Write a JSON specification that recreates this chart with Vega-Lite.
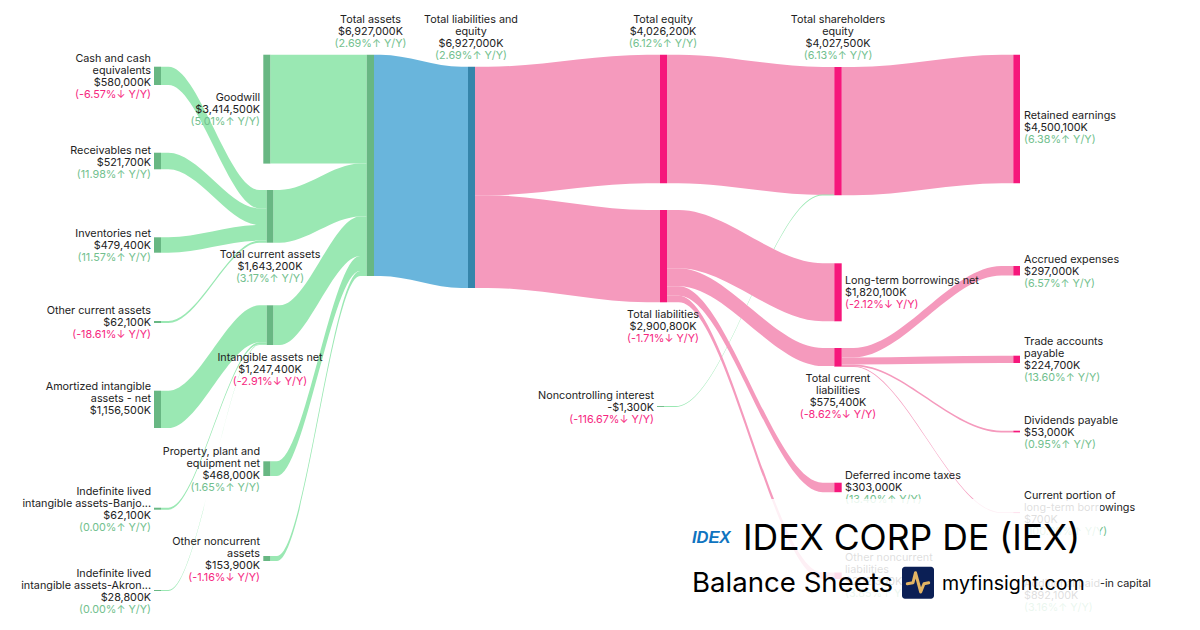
{"$schema":"https://vega.github.io/schema/vega-lite/v6.json","width":1200,"height":630,"autosize":{"type":"fit","contains":"padding"},"padding":0,"background":"white","config":{"view":{"stroke":null},"font":"Inter"},
"datasets":{
"links":[
{"l":"cash","k":"linkG","x":161,"a":66.7,"b":85},{"l":"cash","k":"linkG","x":168.4,"a":66.7,"b":85},{"l":"cash","k":"linkG","x":259.3,"a":190,"b":208.3},{"l":"cash","k":"linkG","x":266.7,"a":190,"b":208.3},
{"l":"recv","k":"linkG","x":161,"a":152.7,"b":169.3},{"l":"recv","k":"linkG","x":168.4,"a":152.7,"b":169.3},{"l":"recv","k":"linkG","x":259.3,"a":208.3,"b":225},{"l":"recv","k":"linkG","x":266.7,"a":208.3,"b":225},
{"l":"inv","k":"linkG","x":161,"a":237.3,"b":252.7},{"l":"inv","k":"linkG","x":168.4,"a":237.3,"b":252.7},{"l":"inv","k":"linkG","x":259.3,"a":225,"b":240.6},{"l":"inv","k":"linkG","x":266.7,"a":225,"b":240.6},
{"l":"oca","k":"linkG","x":161,"a":321,"b":323},{"l":"oca","k":"linkG","x":168.4,"a":321,"b":323},{"l":"oca","k":"linkG","x":259.3,"a":240.6,"b":242.7},{"l":"oca","k":"linkG","x":266.7,"a":240.6,"b":242.7},
{"l":"amort","k":"linkG","x":161,"a":390.7,"b":428},{"l":"amort","k":"linkG","x":168.4,"a":390.7,"b":428},{"l":"amort","k":"linkG","x":259.3,"a":305.3,"b":342.3},{"l":"amort","k":"linkG","x":266.7,"a":305.3,"b":342.3},
{"l":"banjo","k":"linkG","x":161,"a":507.7,"b":509.7},{"l":"banjo","k":"linkG","x":168.4,"a":507.7,"b":509.7},{"l":"banjo","k":"linkG","x":259.3,"a":342.3,"b":344.3},{"l":"banjo","k":"linkG","x":266.7,"a":342.3,"b":344.3},
{"l":"akron","k":"linkG","x":161,"a":590,"b":591},{"l":"akron","k":"linkG","x":168.4,"a":590,"b":591},{"l":"akron","k":"linkG","x":259.3,"a":344.3,"b":345},{"l":"akron","k":"linkG","x":266.7,"a":344.3,"b":345},
{"l":"tca","k":"linkG","x":273.3,"a":190,"b":242.7},{"l":"tca","k":"linkG","x":279.8,"a":190,"b":242.7},{"l":"tca","k":"linkG","x":360.2,"a":163.6,"b":216.5},{"l":"tca","k":"linkG","x":366.7,"a":163.6,"b":216.5},
{"l":"intang","k":"linkG","x":273.3,"a":305.3,"b":345},{"l":"intang","k":"linkG","x":279.8,"a":305.3,"b":345},{"l":"intang","k":"linkG","x":360.2,"a":216.5,"b":256},{"l":"intang","k":"linkG","x":366.7,"a":216.5,"b":256},
{"l":"good","k":"linkG","x":270.3,"a":54.7,"b":163.6},{"l":"good","k":"linkG","x":366.7,"a":54.7,"b":163.6},
{"l":"ppe","k":"linkG","x":270.3,"a":461.3,"b":476},{"l":"ppe","k":"linkG","x":277,"a":461.3,"b":476},{"l":"ppe","k":"linkG","x":360,"a":256,"b":271},{"l":"ppe","k":"linkG","x":366.7,"a":256,"b":271},
{"l":"onc","k":"linkG","x":270.3,"a":556,"b":561},{"l":"onc","k":"linkG","x":277,"a":556,"b":561},{"l":"onc","k":"linkG","x":360,"a":271,"b":276},{"l":"onc","k":"linkG","x":366.7,"a":271,"b":276},
{"l":"ta","k":"linkB","x":374,"a":54.7,"b":276},{"l":"ta","k":"linkB","x":380.6,"a":54.7,"b":276},{"l":"ta","k":"linkB","x":461.4,"a":66.7,"b":288},{"l":"ta","k":"linkB","x":468,"a":66.7,"b":288},
{"l":"te","k":"linkP","x":475,"a":66.7,"b":195.3},{"l":"te","k":"linkP","x":488,"a":66.7,"b":195.3},{"l":"te","k":"linkP","x":647,"a":54.7,"b":183.3},{"l":"te","k":"linkP","x":660,"a":54.7,"b":183.3},
{"l":"tl","k":"linkP","x":475,"a":195.3,"b":288},{"l":"tl","k":"linkP","x":488,"a":195.3,"b":288},{"l":"tl","k":"linkP","x":647,"a":210,"b":302.3},{"l":"tl","k":"linkP","x":660,"a":210,"b":302.3},
{"l":"tse","k":"linkP","x":667,"a":54.7,"b":183.3},{"l":"tse","k":"linkP","x":678.7,"a":54.7,"b":183.3},{"l":"tse","k":"linkP","x":822.6,"a":67,"b":195},{"l":"tse","k":"linkP","x":834.3,"a":67,"b":195},
{"l":"nci","k":"linkG","x":664,"a":406.1,"b":407},{"l":"nci","k":"linkG","x":675.9,"a":406.1,"b":407},{"l":"nci","k":"linkG","x":822.4,"a":194.6,"b":195.5},{"l":"nci","k":"linkG","x":834.3,"a":194.6,"b":195.5},
{"l":"ret","k":"linkP","x":841.7,"a":67,"b":195.3},{"l":"ret","k":"linkP","x":853.7,"a":67,"b":195.3},{"l":"ret","k":"linkP","x":1001.3,"a":54.7,"b":183.3},{"l":"ret","k":"linkP","x":1013.3,"a":54.7,"b":183.3},
{"l":"ltb","k":"linkP","x":667,"a":210,"b":268.3},{"l":"ltb","k":"linkP","x":678.7,"a":210,"b":268.3},{"l":"ltb","k":"linkP","x":822.6,"a":263.3,"b":321.3},{"l":"ltb","k":"linkP","x":834.3,"a":263.3,"b":321.3},
{"l":"tcl","k":"linkP","x":667,"a":268.3,"b":286.2},{"l":"tcl","k":"linkP","x":678.7,"a":268.3,"b":286.2},{"l":"tcl","k":"linkP","x":822.6,"a":348,"b":366},{"l":"tcl","k":"linkP","x":834.3,"a":348,"b":366},
{"l":"def","k":"linkP","x":667,"a":286.2,"b":295.8},{"l":"def","k":"linkP","x":678.7,"a":286.2,"b":295.8},{"l":"def","k":"linkP","x":822.6,"a":482.7,"b":492.2},{"l":"def","k":"linkP","x":834.3,"a":482.7,"b":492.2},
{"l":"oncl","k":"linkP","x":667,"a":295.8,"b":302.3},{"l":"oncl","k":"linkP","x":678.7,"a":295.8,"b":302.3},{"l":"oncl","k":"linkP","x":822.6,"a":572.5,"b":579},{"l":"oncl","k":"linkP","x":834.3,"a":572.5,"b":579},
{"l":"accr","k":"linkP","x":841.7,"a":348,"b":357.4},{"l":"accr","k":"linkP","x":853.7,"a":348,"b":357.4},{"l":"accr","k":"linkP","x":1001.3,"a":266,"b":275.5},{"l":"accr","k":"linkP","x":1013.3,"a":266,"b":275.5},
{"l":"trade","k":"linkP","x":841.7,"a":357.4,"b":364.6},{"l":"trade","k":"linkP","x":853.7,"a":357.4,"b":364.6},{"l":"trade","k":"linkP","x":1001.3,"a":355.7,"b":363},{"l":"trade","k":"linkP","x":1013.3,"a":355.7,"b":363},
{"l":"div","k":"linkP","x":841.7,"a":364.6,"b":366.2},{"l":"div","k":"linkP","x":853.7,"a":364.6,"b":366.2},{"l":"div","k":"linkP","x":1001.3,"a":430.7,"b":432.4},{"l":"div","k":"linkP","x":1013.3,"a":430.7,"b":432.4},
{"l":"cur","k":"linkP","x":841.7,"a":366,"b":366.9},{"l":"cur","k":"linkP","x":853.7,"a":366,"b":366.9},{"l":"cur","k":"linkP","x":1001.3,"a":512.2,"b":513.1},{"l":"cur","k":"linkP","x":1013.3,"a":512.2,"b":513.1}
],
"nodes":[
{"n":"Cash and cash equivalents","k":"nodeG","x":154,"x2":161,"a":66.7,"b":85},
{"n":"Receivables net","k":"nodeG","x":154,"x2":161,"a":152.7,"b":169.3},
{"n":"Inventories net","k":"nodeG","x":154,"x2":161,"a":237.3,"b":252.7},
{"n":"Other current assets","k":"nodeG","x":154,"x2":161,"a":321,"b":323},
{"n":"Amortized intangible assets - net","k":"nodeG","x":154,"x2":161,"a":390.7,"b":428},
{"n":"Indefinite lived intangible assets-Banjo","k":"nodeG","x":154,"x2":161,"a":507.7,"b":509.7},
{"n":"Indefinite lived intangible assets-Akron","k":"nodeG","x":154,"x2":161,"a":590,"b":591},
{"n":"Goodwill","k":"nodeG","x":263.3,"x2":270.3,"a":54.7,"b":163.6},
{"n":"Total current assets","k":"nodeG","x":266.7,"x2":273.3,"a":190,"b":242.7},
{"n":"Intangible assets net","k":"nodeG","x":266.7,"x2":273.3,"a":305.3,"b":345},
{"n":"Property, plant and equipment net","k":"nodeG","x":263.3,"x2":270.3,"a":461.3,"b":476},
{"n":"Other noncurrent assets","k":"nodeG","x":263.3,"x2":270.3,"a":556,"b":561},
{"n":"Total assets","k":"nodeG","x":366.7,"x2":374,"a":54.7,"b":276},
{"n":"Total liabilities and equity","k":"nodeB","x":468,"x2":475,"a":66.7,"b":288},
{"n":"Total equity","k":"nodeP","x":660,"x2":667,"a":54.7,"b":183.3},
{"n":"Total liabilities","k":"nodeP","x":660,"x2":667,"a":210,"b":302.3},
{"n":"Noncontrolling interest","k":"nodeG","x":657,"x2":664,"a":406.1,"b":407},
{"n":"Total shareholders equity","k":"nodeP","x":834.3,"x2":841.7,"a":67,"b":195.3},
{"n":"Long-term borrowings net","k":"nodeP","x":834.3,"x2":841.7,"a":263.3,"b":321.3},
{"n":"Total current liabilities","k":"nodeP","x":834.3,"x2":841.7,"a":348,"b":366.6},
{"n":"Deferred income taxes","k":"nodeP","x":834.3,"x2":841.7,"a":482.7,"b":492.2},
{"n":"Other noncurrent liabilities","k":"nodeP","x":834.3,"x2":841.7,"a":572.5,"b":579},
{"n":"Retained earnings","k":"nodeP","x":1013.3,"x2":1020,"a":54.7,"b":183.3},
{"n":"Accrued expenses","k":"nodeP","x":1013.3,"x2":1020,"a":266,"b":275.5},
{"n":"Trade accounts payable","k":"nodeP","x":1013.3,"x2":1020,"a":355.7,"b":363},
{"n":"Dividends payable","k":"nodeP","x":1013.3,"x2":1020,"a":430.7,"b":432.4},
{"n":"Current portion of long-term borrowings","k":"nodeP","x":1013.3,"x2":1020,"a":512.2,"b":513.1}
],
"labels":[
{"t":"Cash and cash","x":151,"y":59,"r":"name","p":"right"},{"t":"equivalents","x":151,"y":71,"r":"name","p":"right"},{"t":"$580,000K","x":151,"y":83,"r":"name","p":"right"},{"t":"(-6.57%↓ Y/Y)","x":151,"y":95,"r":"down","p":"right"},
{"t":"Receivables net","x":151,"y":151,"r":"name","p":"right"},{"t":"$521,700K","x":151,"y":163,"r":"name","p":"right"},{"t":"(11.98%↑ Y/Y)","x":151,"y":175,"r":"up","p":"right"},
{"t":"Inventories net","x":151,"y":234,"r":"name","p":"right"},{"t":"$479,400K","x":151,"y":246,"r":"name","p":"right"},{"t":"(11.57%↑ Y/Y)","x":151,"y":258,"r":"up","p":"right"},
{"t":"Other current assets","x":151,"y":311,"r":"name","p":"right"},{"t":"$62,100K","x":151,"y":323,"r":"name","p":"right"},{"t":"(-18.61%↓ Y/Y)","x":151,"y":335,"r":"down","p":"right"},
{"t":"Amortized intangible","x":151,"y":387,"r":"name","p":"right"},{"t":"assets - net","x":151,"y":399,"r":"name","p":"right"},{"t":"$1,156,500K","x":151,"y":411,"r":"name","p":"right"},
{"t":"Indefinite lived","x":151,"y":492,"r":"name","p":"right"},{"t":"intangible assets-Banjo...","x":151,"y":504,"r":"name","p":"right"},{"t":"$62,100K","x":151,"y":516,"r":"name","p":"right"},{"t":"(0.00%↑ Y/Y)","x":151,"y":528,"r":"up","p":"right"},
{"t":"Indefinite lived","x":151,"y":574,"r":"name","p":"right"},{"t":"intangible assets-Akron...","x":151,"y":586,"r":"name","p":"right"},{"t":"$28,800K","x":151,"y":598,"r":"name","p":"right"},{"t":"(0.00%↑ Y/Y)","x":151,"y":610,"r":"up","p":"right"},
{"t":"Goodwill","x":260,"y":98,"r":"name","p":"right"},{"t":"$3,414,500K","x":260,"y":110,"r":"name","p":"right"},{"t":"(5.01%↑ Y/Y)","x":260,"y":122,"r":"up","p":"right"},
{"t":"Property, plant and","x":260,"y":452,"r":"name","p":"right"},{"t":"equipment net","x":260,"y":464,"r":"name","p":"right"},{"t":"$468,000K","x":260,"y":476,"r":"name","p":"right"},{"t":"(1.65%↑ Y/Y)","x":260,"y":488,"r":"up","p":"right"},
{"t":"Other noncurrent","x":260,"y":542,"r":"name","p":"right"},{"t":"assets","x":260,"y":554,"r":"name","p":"right"},{"t":"$153,900K","x":260,"y":566,"r":"name","p":"right"},{"t":"(-1.16%↓ Y/Y)","x":260,"y":578,"r":"down","p":"right"},
{"t":"Total current assets","x":270,"y":255,"r":"name","p":"center"},{"t":"$1,643,200K","x":270,"y":267,"r":"name","p":"center"},{"t":"(3.17%↑ Y/Y)","x":270,"y":279,"r":"up","p":"center"},
{"t":"Intangible assets net","x":270,"y":358,"r":"name","p":"center"},{"t":"$1,247,400K","x":270,"y":370,"r":"name","p":"center"},{"t":"(-2.91%↓ Y/Y)","x":270,"y":382,"r":"down","p":"center"},
{"t":"Total assets","x":370.5,"y":20,"r":"name","p":"center"},{"t":"$6,927,000K","x":370.5,"y":32,"r":"name","p":"center"},{"t":"(2.69%↑ Y/Y)","x":370.5,"y":44,"r":"up","p":"center"},
{"t":"Total liabilities and","x":471,"y":20,"r":"name","p":"center"},{"t":"equity","x":471,"y":32,"r":"name","p":"center"},{"t":"$6,927,000K","x":471,"y":44,"r":"name","p":"center"},{"t":"(2.69%↑ Y/Y)","x":471,"y":56,"r":"up","p":"center"},
{"t":"Total equity","x":663,"y":20,"r":"name","p":"center"},{"t":"$4,026,200K","x":663,"y":32,"r":"name","p":"center"},{"t":"(6.12%↑ Y/Y)","x":663,"y":44,"r":"up","p":"center"},
{"t":"Total shareholders","x":838,"y":20,"r":"name","p":"center"},{"t":"equity","x":838,"y":32,"r":"name","p":"center"},{"t":"$4,027,500K","x":838,"y":44,"r":"name","p":"center"},{"t":"(6.13%↑ Y/Y)","x":838,"y":56,"r":"up","p":"center"},
{"t":"Total liabilities","x":663,"y":315,"r":"name","p":"center"},{"t":"$2,900,800K","x":663,"y":327,"r":"name","p":"center"},{"t":"(-1.71%↓ Y/Y)","x":663,"y":339,"r":"down","p":"center"},
{"t":"Noncontrolling interest","x":654,"y":396,"r":"name","p":"right"},{"t":"-$1,300K","x":654,"y":408,"r":"name","p":"right"},{"t":"(-116.67%↓ Y/Y)","x":654,"y":420,"r":"down","p":"right"},
{"t":"Long-term borrowings net","x":845,"y":281,"r":"name","p":"left"},{"t":"$1,820,100K","x":845,"y":293,"r":"name","p":"left"},{"t":"(-2.12%↓ Y/Y)","x":845,"y":305,"r":"down","p":"left"},
{"t":"Total current","x":838,"y":379,"r":"name","p":"center"},{"t":"liabilities","x":838,"y":391,"r":"name","p":"center"},{"t":"$575,400K","x":838,"y":403,"r":"name","p":"center"},{"t":"(-8.62%↓ Y/Y)","x":838,"y":415,"r":"down","p":"center"},
{"t":"Deferred income taxes","x":845,"y":476,"r":"name","p":"left"},{"t":"$303,000K","x":845,"y":488,"r":"name","p":"left"},{"t":"(13.40%↑ Y/Y)","x":845,"y":500,"r":"up","p":"left"},
{"t":"Other noncurrent","x":845,"y":558,"r":"name","p":"left"},{"t":"liabilities","x":845,"y":570,"r":"name","p":"left"},{"t":"$202,300K","x":845,"y":582,"r":"name","p":"left"},{"t":"(3.85%↑ Y/Y)","x":845,"y":594,"r":"up","p":"left"},
{"t":"Retained earnings","x":1024,"y":116,"r":"name","p":"left"},{"t":"$4,500,100K","x":1024,"y":128,"r":"name","p":"left"},{"t":"(6.38%↑ Y/Y)","x":1024,"y":140,"r":"up","p":"left"},
{"t":"Accrued expenses","x":1024,"y":260,"r":"name","p":"left"},{"t":"$297,000K","x":1024,"y":272,"r":"name","p":"left"},{"t":"(6.57%↑ Y/Y)","x":1024,"y":284,"r":"up","p":"left"},
{"t":"Trade accounts","x":1024,"y":342,"r":"name","p":"left"},{"t":"payable","x":1024,"y":354,"r":"name","p":"left"},{"t":"$224,700K","x":1024,"y":366,"r":"name","p":"left"},{"t":"(13.60%↑ Y/Y)","x":1024,"y":378,"r":"up","p":"left"},
{"t":"Dividends payable","x":1024,"y":421,"r":"name","p":"left"},{"t":"$53,000K","x":1024,"y":433,"r":"name","p":"left"},{"t":"(0.95%↑ Y/Y)","x":1024,"y":445,"r":"up","p":"left"},
{"t":"Current portion of","x":1024,"y":496,"r":"name","p":"left"},{"t":"long-term borrowings","x":1024,"y":508,"r":"name","p":"left"},{"t":"$700K","x":1024,"y":520,"r":"name","p":"left"},{"t":"(100.00%↑ Y/Y)","x":1024,"y":532,"r":"up","p":"left"},
{"t":"Additional paid-in capital","x":1024,"y":584,"r":"name","p":"left"},{"t":"$892,100K","x":1024,"y":596,"r":"name","p":"left"},{"t":"(3.16%↑ Y/Y)","x":1024,"y":608,"r":"up","p":"left"}
]},
"encoding":{},
"layer":[
{"data":{"name":"links"},"mark":{"type":"area","interpolate":"monotone","orient":"vertical"},"encoding":{
"x":{"field":"x","type":"quantitative","scale":{"domain":[0,1200],"nice":false,"zero":false},"axis":null},
"y":{"field":"a","type":"quantitative","scale":{"domain":[0,630],"reverse":true,"nice":false,"zero":false},"axis":null},
"y2":{"field":"b"},"detail":{"field":"l","type":"nominal"},
"color":{"field":"k","type":"nominal","legend":null,"scale":{"domain":["linkG","linkB","linkP","nodeG","nodeB","nodeP","name","up","down"],"range":["#9AE8B3","#69B5DC","#F59ABD","#68B783","#3585AB","#F6177B","#222222","#72BF8E","#F6277F"]}}}},
{"data":{"name":"nodes"},"mark":{"type":"rect"},"encoding":{
"x":{"field":"x","type":"quantitative","axis":null},"x2":{"field":"x2"},
"y":{"field":"a","type":"quantitative","axis":null},"y2":{"field":"b"},
"color":{"field":"k","type":"nominal","legend":null}}},
{"data":{"name":"labels"},"transform":[{"filter":"datum.p==='right'"}],"mark":{"type":"text","align":"right","baseline":"middle","font":"Inter","fontSize":10.8},"encoding":{"x":{"field":"x","type":"quantitative","axis":null},"y":{"field":"y","type":"quantitative","axis":null},"text":{"field":"t"},"color":{"field":"r","type":"nominal","legend":null}}},
{"data":{"name":"labels"},"transform":[{"filter":"datum.p==='center'"}],"mark":{"type":"text","align":"center","baseline":"middle","font":"Inter","fontSize":10.8},"encoding":{"x":{"field":"x","type":"quantitative","axis":null},"y":{"field":"y","type":"quantitative","axis":null},"text":{"field":"t"},"color":{"field":"r","type":"nominal","legend":null}}},
{"data":{"name":"labels"},"transform":[{"filter":"datum.p==='left'"}],"mark":{"type":"text","align":"left","baseline":"middle","font":"Inter","fontSize":10.8},"encoding":{"x":{"field":"x","type":"quantitative","axis":null},"y":{"field":"y","type":"quantitative","axis":null},"text":{"field":"t"},"color":{"field":"r","type":"nominal","legend":null}}},
{"data":{"values":[{"x":685,"x2":1100,"a":499,"b":630}]},"mark":{"type":"rect","color":"white","opacity":0.85},"encoding":{"x":{"field":"x","type":"quantitative","axis":null},"x2":{"field":"x2"},"y":{"field":"a","type":"quantitative","axis":null},"y2":{"field":"b"}}},
{"data":{"values":[{"t":"IDEX CORP DE (IEX)","x":743,"y":538.5}]},"mark":{"type":"text","align":"left","baseline":"middle","font":"Inter","fontSize":35.5,"color":"#000000"},"encoding":{"x":{"field":"x","type":"quantitative","axis":null},"y":{"field":"y","type":"quantitative","axis":null},"text":{"field":"t"}}},
{"data":{"values":[{"t":"Balance Sheets","x":692,"y":583.5}]},"mark":{"type":"text","align":"left","baseline":"middle","font":"Inter","fontSize":27.6,"color":"#000000"},"encoding":{"x":{"field":"x","type":"quantitative","axis":null},"y":{"field":"y","type":"quantitative","axis":null},"text":{"field":"t"}}},
{"data":{"values":[{"t":"myfinsight.com","x":942,"y":584}]},"mark":{"type":"text","align":"left","baseline":"middle","font":"Inter","fontSize":19.6,"color":"#000000"},"encoding":{"x":{"field":"x","type":"quantitative","axis":null},"y":{"field":"y","type":"quantitative","axis":null},"text":{"field":"t"}}},
{"data":{"values":[{"t":"IDEX","x":692,"y":537.5}]},"mark":{"type":"text","align":"left","baseline":"middle","font":"Liberation Sans","fontStyle":"italic","fontWeight":"bold","fontSize":16.5,"color":"#0F74C0"},"encoding":{"x":{"field":"x","type":"quantitative","axis":null},"y":{"field":"y","type":"quantitative","axis":null},"text":{"field":"t"}}},
{"data":{"values":[{"x":902,"x2":934,"a":566.7,"b":598.7}]},"mark":{"type":"rect","color":"#0B1F55","cornerRadius":3},"encoding":{"x":{"field":"x","type":"quantitative","axis":null},"x2":{"field":"x2"},"y":{"field":"a","type":"quantitative","axis":null},"y2":{"field":"b"}}},
{"data":{"values":[{"x":907.3,"y":583.7},{"x":913,"y":582.7},{"x":915.5,"y":572.7},{"x":920.7,"y":592},{"x":924,"y":583.7},{"x":928.7,"y":582.7}]},"mark":{"type":"line","color":"#E3B463","strokeWidth":3,"strokeCap":"round","strokeJoin":"round"},"encoding":{"x":{"field":"x","type":"quantitative","axis":null},"y":{"field":"y","type":"quantitative","axis":null},"order":{"field":"x","type":"quantitative"}}}
]}
